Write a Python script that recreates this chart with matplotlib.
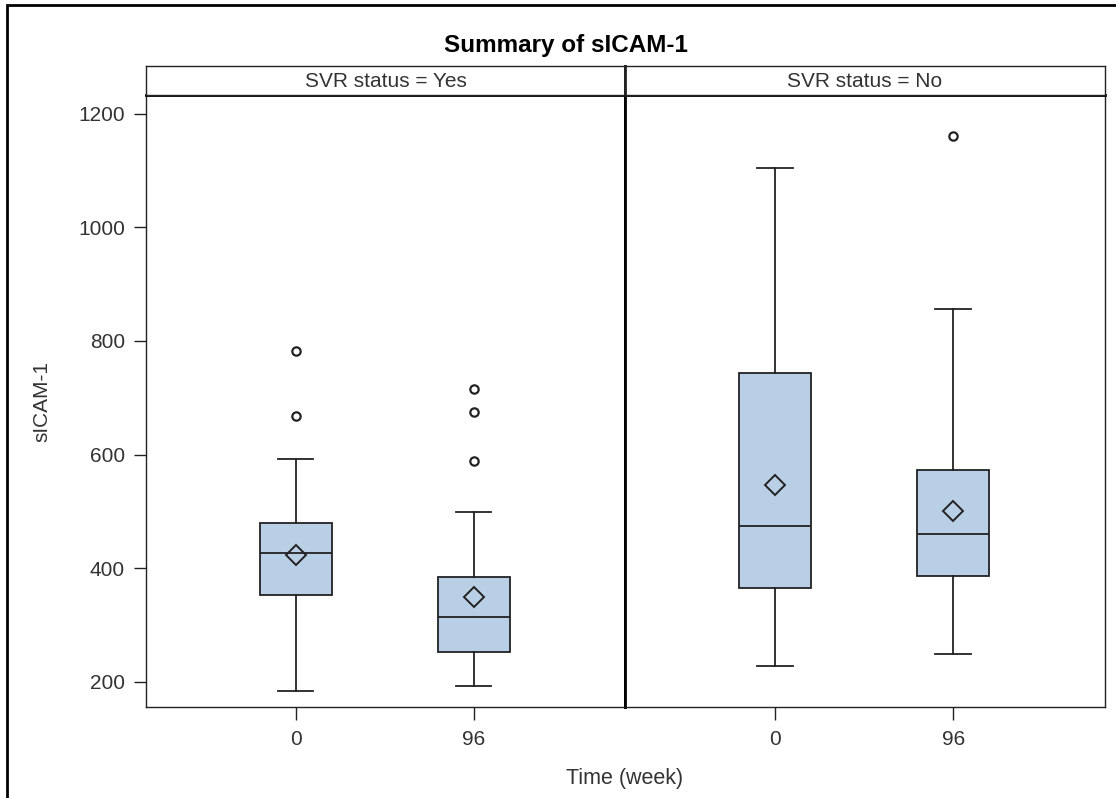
import matplotlib
matplotlib.use("Agg")
import matplotlib.pyplot as plt
from matplotlib.patches import Rectangle

plt.rcParams['font.family'] = ['Liberation Sans', 'DejaVu Sans']

# data (order: Yes-0, Yes-96, No-0, No-96)
svr_status = ['Yes', 'No']
time_labels = ['0', '96']
whisker_low = [184, 192, 227, 248]
q1 = [352, 253, 365, 386]
median = [426, 314, 475, 460]
q3 = [479, 385, 744, 573]
whisker_high = [592, 499, 1105, 857]
mean = [423, 349, 547, 500]
outliers = [[782, 668], [715, 675, 589], [], [1161]]

W, H = 1116, 798
fig = plt.figure(figsize=(W / 100, H / 100), dpi=100)

def frac(x0, y0, x1, y1):
    return [x0 / W, 1 - y1 / H, (x1 - x0) / W, (y1 - y0) / H]

edge = '#222222'
fill = '#B9CFE6'
fs = 15

panels = [(146, 625), (625, 1105)]
for p, (xa, xb) in enumerate(panels):
    ax = fig.add_axes(frac(xa, 95, xb, 707))
    stats = []
    for k in range(2):
        i = p * 2 + k
        stats.append(dict(whislo=whisker_low[i], q1=q1[i], med=median[i], q3=q3[i],
                          whishi=whisker_high[i], mean=mean[i], fliers=outliers[i]))
    ax.bxp(stats, positions=[0, 1], widths=0.405, patch_artist=True, showmeans=True,
           boxprops=dict(facecolor=fill, edgecolor=edge, linewidth=1.3),
           medianprops=dict(color=edge, linewidth=1.3),
           whiskerprops=dict(color=edge, linewidth=1.3),
           capprops=dict(color=edge, linewidth=1.3),
           capwidths=0.2,
           meanprops=dict(marker='D', markerfacecolor='none', markeredgecolor=edge,
                          markersize=10, markeredgewidth=1.4),
           flierprops=dict(marker='o', markerfacecolor='none', markeredgecolor=edge,
                           markersize=6, markeredgewidth=1.6))
    ax.set_xlim(-0.84, 1.85)
    ax.set_ylim(155.5, 1233)
    ax.set_xticks([0, 1])
    ax.set_xticklabels(time_labels, fontsize=fs, color='#333333')
    ax.tick_params(axis='x', length=9.4, width=1, pad=7, color=edge)
    for s in ax.spines.values():
        s.set_linewidth(1)
        s.set_color(edge)
    if p == 0:
        ax.set_yticks([200, 400, 600, 800, 1000, 1200])
        ax.tick_params(axis='y', length=8.6, width=1, labelsize=fs, labelcolor='#333333',
                       pad=6.5, color=edge)
        ax.spines['right'].set_linewidth(2)
        ax.spines['right'].set_color('black')
    else:
        ax.set_yticks([])
        ax.spines['left'].set_linewidth(2)
        ax.spines['left'].set_color('black')
    ax.spines['top'].set_linewidth(2)
    ax.spines['top'].set_color('black')

    # header strip
    hx = fig.add_axes(frac(xa, 66, xb, 95))
    hx.set_xticks([])
    hx.set_yticks([])
    for s in hx.spines.values():
        s.set_linewidth(1)
        s.set_color(edge)
    if p == 0:
        hx.spines['right'].set_linewidth(2)
    else:
        hx.spines['left'].set_linewidth(2)
    hx.text(0.5, 0.45, 'SVR status = ' + svr_status[p], ha='center', va='center',
            fontsize=fs, color='#333333', transform=hx.transAxes)

fig.text(566 / W, 1 - 52 / H, 'Summary of sICAM-1', ha='center', va='baseline',
         fontsize=17.5, fontweight='bold')
fig.text(42 / W, 1 - 402 / H, 'sICAM-1', ha='center', va='center', rotation=90,
         fontsize=fs, color='#333333')
fig.text(625 / W, 1 - 784 / H, 'Time (week)', ha='center', va='baseline',
         fontsize=15.5, color='#333333')

fig.patches.append(Rectangle((7 / W, -0.1), 1.2, 1 - 5 / H + 0.1, transform=fig.transFigure,
                             fill=False, edgecolor='black', linewidth=2, figure=fig))

fig.savefig('out.png', dpi=100)
